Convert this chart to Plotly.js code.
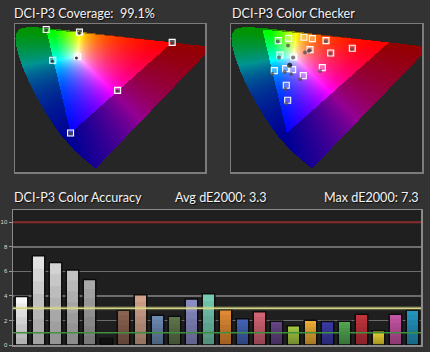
<!DOCTYPE html>
<html><head><meta charset="utf-8">
<script src="https://cdn.plot.ly/plotly-3.0.1.min.js"></script>
<style>html,body{margin:0;padding:0;background:#333333;}#chart{width:430px;height:352px;}</style>
</head><body><div id="chart"></div>
<script>
// ---- Data ----
// CIE 1931 spectral locus (x, y), 380-700 nm
const locusX = [0.1741,0.1738,0.1733,0.1726,0.1714,0.1689,0.1644,0.1566,0.1440,0.1241,0.1096,0.0913,0.0687,0.0454,0.0235,0.0082,0.0039,0.0139,0.0389,0.0743,0.1142,0.1547,0.1929,0.2296,0.2658,0.3016,0.3373,0.3731,0.4441,0.5125,0.5752,0.6270,0.6658,0.6915,0.7079,0.7190,0.7260,0.7300,0.7334,0.7347];
const locusY = [0.0050,0.0049,0.0048,0.0048,0.0051,0.0069,0.0109,0.0177,0.0297,0.0578,0.0868,0.1327,0.2007,0.2950,0.4127,0.5384,0.6548,0.7502,0.8120,0.8338,0.8262,0.8059,0.7816,0.7543,0.7243,0.6923,0.6589,0.6245,0.5547,0.4866,0.4242,0.3725,0.3340,0.3083,0.2920,0.2809,0.2740,0.2700,0.2666,0.2653];
// DCI-P3 primaries (x, y)
const p3X = [0.680, 0.265, 0.150];
const p3Y = [0.320, 0.690, 0.060];

// Coverage panel (u', v')
const covTargetU = [0.0986,0.2035,0.4964,0.1190,0.1978,0.3240,0.1754];
const covTargetV = [0.5777,0.5670,0.5255,0.4530,0.4683,0.3310,0.1579];
const covMeasU   = [0.0990,0.2030,0.4960,0.1180,0.1940,0.3230,0.1740];
const covMeasV   = [0.5750,0.5630,0.5230,0.4490,0.4620,0.3290,0.1560];

// Color checker panel (u', v')
const ccTargetU = [0.1486,0.1813,0.2293,0.2554,0.2985,0.3811,0.3132,0.2482,0.1539,0.1970,0.1360,0.1718,0.1938,0.2868,0.2271,0.1737,0.1781];
const ccTargetV = [0.5326,0.5419,0.5460,0.5407,0.5326,0.5014,0.4824,0.4962,0.4743,0.4662,0.4110,0.4191,0.4151,0.4232,0.3908,0.3514,0.2906];
const ccMeasU   = [0.1467,0.1791,0.2325,0.2441,0.2980,0.3800,0.3120,0.2470,0.1508,0.1950,0.1298,0.1687,0.1885,0.2796,0.2177,0.1706,0.1737,0.1844];
const ccMeasV   = [0.5286,0.5124,0.4840,0.4905,0.5300,0.4990,0.4800,0.4940,0.4637,0.4640,0.3972,0.4054,0.3972,0.4094,0.3758,0.3364,0.2773,0.4325];

// Accuracy bars
const patches = ['White','Neutral 8','Neutral 6.5','Neutral 5','Neutral 3.5','Black','Dark Skin','Light Skin','Blue Sky','Foliage','Blue Flower','Bluish Green','Orange','Purplish Blue','Moderate Red','Purple','Yellow Green','Orange Yellow','Blue','Green','Red','Yellow','Magenta','Cyan'];
const dE = [3.96,7.27,6.72,6.12,5.33,0.52,2.84,4.10,2.43,2.35,3.74,4.18,2.87,2.13,2.70,1.94,1.56,2.02,1.91,1.94,2.51,1.17,2.51,2.84];
const barColors = ['#f6f6f6','#e2e2e2','#d2d2d2','#c2c2c2','#a9a9a9','#151515','#8c6352','#d2a28c','#6c8ab2','#5d744a','#8a8cc4','#74cab2','#e08a34','#4462b4','#d26474','#644484','#a4c444','#eaaa34','#3a3aa4','#52a452','#c2343c','#ead234','#c454a4','#2494bc'];

const yTicks = [0,2,4,6,8,10];

// ---- helpers ----
function xyToUV(x,y){const d=-2*x+12*y+3;return [4*x/d,9*y/d];}
const locusUV = locusX.map((x,i)=>xyToUV(x,locusY[i]));
const p3UV = p3X.map((x,i)=>xyToUV(x,p3Y[i]));
function inPoly(u,v,poly){let c=false;for(let i=0,j=poly.length-1;i<poly.length;j=i++){const a=poly[i],b=poly[j];if(((a[1]>v)!==(b[1]>v))&&(u<(b[0]-a[0])*(v-a[1])/(b[1]-a[1])+a[0]))c=!c;}return c;}
function colorAt(u,v){
  const d=6*u-16*v+12;const x=9*u/d,y=4*v/d;
  const X=x/y,Y=1,Z=(1-x-y)/y;
  let r=3.2406*X-1.5372*Y-0.4986*Z,g=-0.9689*X+1.8758*Y+0.0415*Z,b=0.0557*X-0.2040*Y+1.0570*Z;
  r=Math.max(r,0);g=Math.max(g,0);b=Math.max(b,0);
  const m=Math.max(r,g,b)||1;
  return [r/m,g/m,b/m].map(c=>255*c);
}
function buildImage(W,H,range){
  const z=[];const dx=range/W,dy=range/H;
  for(let i=0;i<H;i++){const row=[];const v=(i+0.5)*dy;
    for(let j=0;j<W;j++){const u=(j+0.5)*dx;
      if(inPoly(u,v,locusUV)){
        let c=colorAt(u,v);
        if(!inPoly(u,v,p3UV)) c=c.map(k=>k*0.58);
        row.push([c[0],c[1],c[2],1]);
      } else row.push([0,0,0,0]);
    }
    z.push(row);}
  return {z:z,dx:dx,dy:dy};
}
const imgL=buildImage(190,148,0.6);
const imgR=buildImage(191,148,0.6);

// shading overlays for bar gradient
const shadeTraces=[];
for(let k=1;k<=6;k++){
  shadeTraces.push({type:'bar',x:patches.map((p,i)=>i),y:dE.map(v=>v*k/7),xaxis:'x3',yaxis:'y3',
    marker:{color:'rgba(0,0,0,0.05)',line:{width:0}},hoverinfo:'skip',showlegend:false});
}

const targetMarker={symbol:'square',size:6,color:'rgba(255,255,255,0.25)',line:{color:'#ffffff',width:1.1}};
const measMarker={symbol:'circle',size:3,color:'#3c3c3c',line:{width:0}};

const data=[
  {type:'image',z:imgL.z,x0:imgL.dx/2,dx:imgL.dx,y0:imgL.dy/2,dy:imgL.dy,xaxis:'x',yaxis:'y',colormodel:'rgba',hoverinfo:'skip'},
  {type:'scatter',mode:'markers',x:covTargetU,y:covTargetV,xaxis:'x',yaxis:'y',marker:targetMarker,showlegend:false},
  {type:'scatter',mode:'markers',x:covMeasU,y:covMeasV,xaxis:'x',yaxis:'y',marker:measMarker,showlegend:false},
  {type:'image',z:imgR.z,x0:imgR.dx/2,dx:imgR.dx,y0:imgR.dy/2,dy:imgR.dy,xaxis:'x2',yaxis:'y2',colormodel:'rgba',hoverinfo:'skip'},
  {type:'scatter',mode:'markers',x:ccTargetU,y:ccTargetV,xaxis:'x2',yaxis:'y2',marker:targetMarker,showlegend:false},
  {type:'scatter',mode:'markers',x:ccMeasU,y:ccMeasV,xaxis:'x2',yaxis:'y2',
    marker:{symbol:'circle',size:ccMeasU.map((u,i)=>i===ccMeasU.length-1?5:4),color:ccMeasU.map((u,i)=>i===ccMeasU.length-1?'#000000':'#484848'),line:{width:0}},showlegend:false},
  {type:'bar',x:patches.map((p,i)=>i),y:dE,xaxis:'x3',yaxis:'y3',marker:{color:barColors,line:{color:'#0c0c0c',width:1.5}},showlegend:false}
].concat(shadeTraces);

const W=430,H=352;
const px=v=>v/W, py=v=>1-v/H;
const frameAx={showgrid:false,zeroline:false,showticklabels:false,ticks:'',showline:true,mirror:true,linecolor:'#7c7c7c',linewidth:1.5,fixedrange:true};
const titleFont={family:'Lato, "Open Sans", sans-serif',size:12.6,color:'#f4f4f4',shadow:'1px 1px 1px rgba(0,0,0,0.8)'};

const layout={
  width:W,height:H,margin:{l:0,r:0,t:0,b:0},
  paper_bgcolor:'#333333',plot_bgcolor:'#262626',
  barmode:'overlay',bargap:0.26,showlegend:false,
  xaxis:Object.assign({},frameAx,{domain:[px(15),px(205)],range:[0,0.6],anchor:'y'}),
  yaxis:Object.assign({},frameAx,{domain:[py(172),py(24)],range:[0,0.6],anchor:'x',scaleanchor:false}),
  xaxis2:Object.assign({},frameAx,{domain:[px(231),px(422)],range:[0,0.6],anchor:'y2'}),
  yaxis2:Object.assign({},frameAx,{domain:[py(172),py(24)],range:[0,0.6],anchor:'x2',scaleanchor:false}),
  xaxis3:Object.assign({},frameAx,{domain:[px(13),px(421)],range:[-0.5,23.5],anchor:'y3',linecolor:'#8a8a8a'}),
  yaxis3:{domain:[py(345),py(210)],range:[0,11],anchor:'x3',tickvals:yTicks,ticks:'outside',ticklen:3,tickcolor:'#9a9a9a',
    tickfont:{size:6,color:'#d8d8d8',family:'Arial, sans-serif'},showgrid:true,gridcolor:'#6c6c6c',gridwidth:1.5,zeroline:false,
    showline:true,mirror:true,linecolor:'#8a8a8a',linewidth:1.5,fixedrange:true},
  shapes:[
    {type:'rect',xref:'x3 domain',yref:'y3 domain',x0:0,x1:1,y0:0,y1:1,fillcolor:'#1f1f1f',line:{width:0},layer:'below'},
    {type:'line',xref:'x3 domain',yref:'y3',x0:0,x1:1,y0:10,y1:10,line:{color:'#8a2c2c',width:2},layer:'above'},
    {type:'line',xref:'x3 domain',yref:'y3',x0:0,x1:1,y0:3,y1:3,line:{color:'rgba(235,235,140,0.25)',width:4},layer:'above'},
    {type:'line',xref:'x3 domain',yref:'y3',x0:0,x1:1,y0:3,y1:3,line:{color:'#d6d68a',width:1.6},layer:'above'},
    {type:'line',xref:'x3 domain',yref:'y3',x0:0,x1:1,y0:1,y1:1,line:{color:'#3f8f3f',width:1.3},layer:'above'}
  ],
  annotations:[
    {xref:'paper',yref:'paper',x:px(12),y:py(13),xanchor:'left',yanchor:'middle',showarrow:false,text:'DCI-P3 Coverage:\u00a0 99.1%',font:titleFont},
    {xref:'paper',yref:'paper',x:px(230),y:py(13),xanchor:'left',yanchor:'middle',showarrow:false,text:'DCI-P3 Color Checker',font:titleFont},
    {xref:'paper',yref:'paper',x:px(12),y:py(197),xanchor:'left',yanchor:'middle',showarrow:false,text:'DCI-P3 Color Accuracy',font:titleFont},
    {xref:'paper',yref:'paper',x:px(173),y:py(197),xanchor:'left',yanchor:'middle',showarrow:false,text:'Avg dE2000: 3.3',font:titleFont},
    {xref:'paper',yref:'paper',x:px(421),y:py(197),xanchor:'right',yanchor:'middle',showarrow:false,text:'Max dE2000: 7.3',font:titleFont}
  ]
};
Plotly.newPlot('chart',data,layout,{displayModeBar:false,staticPlot:true});
</script></body></html>
